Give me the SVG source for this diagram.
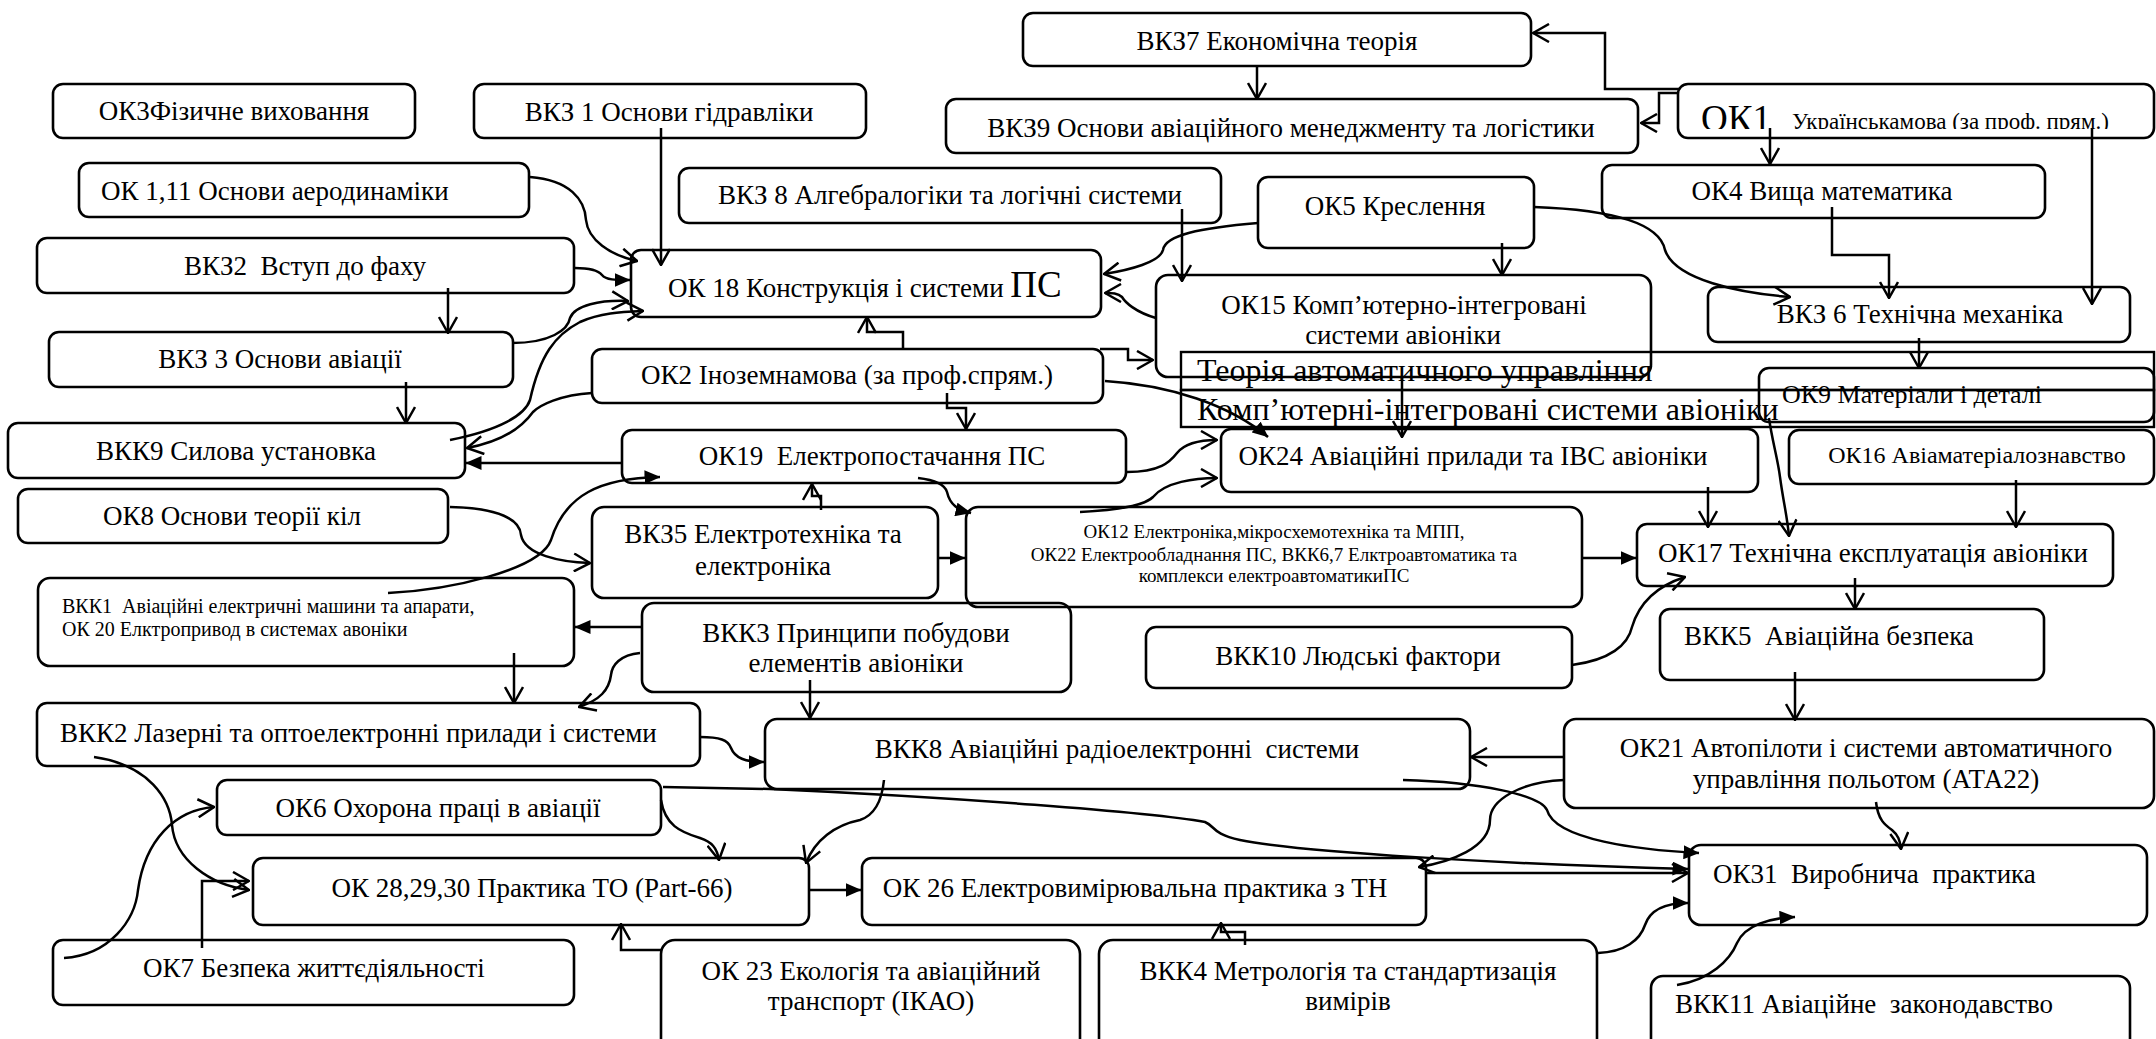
<svg xmlns="http://www.w3.org/2000/svg" width="2156" height="1039" viewBox="0 0 2156 1039">
<style>
.b{fill:none;stroke:#000;stroke-width:2.6}
.r{fill:none;stroke:#000;stroke-width:2.4}
.t{font-family:"Liberation Serif","Times New Roman",serif;font-size:27px;fill:#000}
.m{text-anchor:middle}
.p{white-space:pre}
.c path{fill:none;stroke:#000;stroke-width:2.5}
.o{marker-end:url(#ao)}
.f{marker-end:url(#af)}
</style>
<defs>
<marker id="ao" viewBox="0 0 18 20" refX="17" refY="10" markerWidth="18" markerHeight="20" orient="auto" markerUnits="userSpaceOnUse"><path d="M1,1 L17,10 L1,19" fill="none" stroke="#000" stroke-width="2.5"/></marker>
<marker id="af" viewBox="0 0 16 14" refX="15.5" refY="7" markerWidth="16" markerHeight="14" orient="auto" markerUnits="userSpaceOnUse"><path d="M0,0 L16,7 L0,14 Z" fill="#000"/></marker>
<clipPath id="c1"><rect x="1680" y="86" width="474" height="43"/></clipPath>
</defs>

<g id="n-vkz7"><rect class="b" x="1023" y="13" width="508" height="53" rx="10"/><text class="t m" x="1277" y="50">ВКЗ7 Економічна теорія</text></g>
<g id="n-vkz9"><rect class="b" x="946" y="99" width="692" height="54" rx="10"/><text class="t m" x="1291" y="137">ВКЗ9 Основи авіаційного менеджменту та логістики</text></g>
<g id="n-ok1"><rect class="b" x="1678" y="84" width="476" height="54" rx="10"/><g clip-path="url(#c1)"><text class="t" x="1701" y="131" style="font-size:37px">ОК1</text><text class="t" x="1792" y="129" style="font-size:23px">Українськамова (за проф. прям.)</text></g></g>
<g id="n-ok3"><rect class="b" x="53" y="84" width="362" height="54" rx="10"/><text class="t m" x="234" y="120">ОК3Фізичне виховання</text></g>
<g id="n-vkz1"><rect class="b" x="474" y="84" width="392" height="54" rx="10"/><text class="t m" x="669" y="121">ВКЗ 1 Основи гідравліки</text></g>
<g id="n-ok111"><rect class="b" x="79" y="163" width="450" height="54" rx="10"/><text class="t" x="101" y="200">ОК 1,11 Основи аеродинаміки</text></g>
<g id="n-vkz2"><rect class="b" x="37" y="238" width="537" height="55" rx="10"/><text class="t m p" x="305" y="275">ВКЗ2  Вступ до фаху</text></g>
<g id="n-vkz8"><rect class="b" x="679" y="168" width="542" height="55" rx="10"/><text class="t m" x="950" y="204">ВКЗ 8 Алгебралогіки та логічні системи</text></g>
<g id="n-ok5"><rect class="b" x="1258" y="177" width="276" height="71" rx="10"/><text class="t m" x="1395" y="215">ОК5 Креслення</text></g>
<g id="n-ok4"><rect class="b" x="1602" y="165" width="443" height="53" rx="10"/><text class="t m" x="1822" y="200">ОК4 Вища математика</text></g>
<g id="n-ok18"><rect class="b" x="631" y="250" width="470" height="67" rx="10"/><text class="t" x="668" y="297">ОК 18 Конструкція і системи <tspan style="font-size:37px">ПС</tspan></text></g>
<g id="n-ok15"><rect class="b" x="1156" y="275" width="495" height="102" rx="12"/><text class="t m" x="1404" y="314">ОК15 Комп’ютерно-інтегровані</text><text class="t m" x="1403" y="344">системи авіоніки</text></g>
<g id="n-vkz6"><rect class="b" x="1708" y="287" width="422" height="55" rx="10"/><text class="t m" x="1920" y="323">ВКЗ 6 Технічна механіка</text></g>
<g id="n-vkz3"><rect class="b" x="49" y="332" width="464" height="55" rx="10"/><text class="t m" x="280" y="368">ВКЗ 3 Основи авіації</text></g>
<g id="n-ok2"><rect class="b" x="592" y="349" width="511" height="54" rx="10"/><text class="t m" x="847" y="384">ОК2 Іноземнамова (за проф.спрям.)</text></g>
<g id="n-vkk9"><rect class="b" x="8" y="423" width="457" height="55" rx="10"/><text class="t m" x="236" y="460">ВКК9 Силова установка</text></g>
<g id="n-ok8"><rect class="b" x="18" y="489" width="430" height="54" rx="10"/><text class="t m" x="232" y="525">ОК8 Основи теорії кіл</text></g>
<g id="n-ok9"><rect class="b" x="1759" y="368" width="395" height="54" rx="10"/><text class="t" x="1782" y="403" style="font-size:26px">ОК9 Матеріали і деталі</text></g>
<g id="n-tau"><rect class="r" x="1181" y="352" width="973" height="38"/><text class="t" x="1197" y="381" style="font-size:32px">Теорія автоматичного управління</text></g>
<g id="n-kis"><rect class="r" x="1181" y="390" width="973" height="37"/><text class="t" x="1197" y="420" style="font-size:32px">Комп’ютерні-інтегровані системи авіоніки</text></g>
<g id="n-ok19"><rect class="b" x="622" y="430" width="504" height="53" rx="10"/><text class="t m p" x="872" y="465">ОК19  Електропостачання ПС</text></g>
<g id="n-ok24"><rect class="b" x="1221" y="429" width="537" height="63" rx="10"/><text class="t m" x="1473" y="465">ОК24 Авіаційні прилади та ІВС авіоніки</text></g>
<g id="n-ok16"><rect class="b" x="1789" y="430" width="365" height="54" rx="10"/><text class="t m" x="1977" y="463" style="font-size:24px">ОК16 Авіаматеріалознавство</text></g>
<g id="n-vkz5"><rect class="b" x="592" y="507" width="346" height="91" rx="12"/><text class="t m" x="763" y="543">ВКЗ5 Електротехніка та</text><text class="t m" x="763" y="575">електроніка</text></g>
<g id="n-ok12"><rect class="b" x="966" y="507" width="616" height="100" rx="12"/><text class="t m" x="1274" y="538" style="font-size:19px">ОК12 Електроніка,мікросхемотехніка та МПП,</text><text class="t m" x="1274" y="561" style="font-size:19px">ОК22 Електрообладнання ПС, ВКК6,7 Елктроавтоматика та</text><text class="t m" x="1274" y="582" style="font-size:19px">комплекси електроавтоматикиПС</text></g>
<g id="n-ok17"><rect class="b" x="1637" y="524" width="476" height="62" rx="10"/><text class="t m" x="1873" y="562">ОК17 Технічна експлуатація авіоніки</text></g>
<g id="n-vkk1"><rect class="b" x="38" y="578" width="536" height="88" rx="12"/><text class="t p" x="62" y="613" style="font-size:20px">ВКК1  Авіаційні електричні машини та апарати,</text><text class="t" x="62" y="636" style="font-size:20px">ОК 20 Елктропривод в системах авоніки</text></g>
<g id="n-vkk3"><rect class="b" x="642" y="603" width="429" height="89" rx="12"/><text class="t m" x="856" y="642">ВКК3 Принципи побудови</text><text class="t m" x="856" y="672">елементів авіоніки</text></g>
<g id="n-vkk10"><rect class="b" x="1146" y="627" width="426" height="61" rx="10"/><text class="t m" x="1358" y="665">ВКК10 Людські фактори</text></g>
<g id="n-vkk5"><rect class="b" x="1660" y="609" width="384" height="71" rx="10"/><text class="t p" x="1684" y="645">ВКК5  Авіаційна безпека</text></g>
<g id="n-vkk2"><rect class="b" x="37" y="703" width="663" height="63" rx="10"/><text class="t" x="60" y="742">ВКК2 Лазерні та оптоелектронні прилади і системи</text></g>
<g id="n-vkk8"><rect class="b" x="765" y="719" width="705" height="70" rx="12"/><text class="t m p" x="1117" y="758">ВКК8 Авіаційні радіоелектронні  системи</text></g>
<g id="n-ok21"><rect class="b" x="1564" y="719" width="590" height="89" rx="12"/><text class="t m" x="1866" y="757">ОК21 Автопілоти і системи автоматичного</text><text class="t m" x="1866" y="788">управління польотом (АТА22)</text></g>
<g id="n-ok6"><rect class="b" x="217" y="780" width="444" height="55" rx="10"/><text class="t m" x="438" y="817">ОК6 Охорона праці в авіації</text></g>
<g id="n-ok31"><rect class="b" x="1689" y="845" width="458" height="80" rx="12"/><text class="t p" x="1713" y="883">ОК31  Виробнича  практика</text></g>
<g id="n-ok28"><rect class="b" x="253" y="858" width="556" height="67" rx="10"/><text class="t m" x="532" y="897">ОК 28,29,30 Практика ТО (Part-66)</text></g>
<g id="n-ok26"><rect class="b" x="862" y="858" width="564" height="67" rx="10"/><text class="t m" x="1135" y="897">ОК 26 Електровимірювальна практика з ТН</text></g>
<g id="n-ok7"><rect class="b" x="53" y="940" width="521" height="65" rx="10"/><text class="t m" x="314" y="977">ОК7 Безпека життєдіяльності</text></g>
<g id="n-ok23"><rect class="b" x="661" y="940" width="419" height="115" rx="14"/><text class="t m" x="871" y="980">ОК 23 Екологія та авіаційний</text><text class="t m" x="871" y="1010">транспорт (ІКАО)</text></g>
<g id="n-vkk4"><rect class="b" x="1099" y="940" width="498" height="115" rx="14"/><text class="t m" x="1348" y="980">ВКК4 Метрологія та стандартизація</text><text class="t m" x="1348" y="1010">вимірів</text></g>
<g id="n-vkk11"><rect class="b" x="1651" y="976" width="479" height="80" rx="12"/><text class="t p" x="1675" y="1013">ВКК11 Авіаційне  законодавство</text></g>

<g id="connectors" class="c">
<path class="o" d="M1679,89 H1605 V33 H1533"/>
<path class="o" d="M1679,93 H1659 V123 H1641"/>
<path class="o" d="M1257,67 V99"/>
<path class="o" d="M1770,128 V164"/>
<path class="o" d="M2092,128 V304"/>
<path class="o" d="M1832,207 V255 H1889 V298"/>
<path class="o" d="M1534,207 C1620,210 1660,225 1665,250 C1675,280 1740,293 1790,297"/>
<path class="o" d="M1502,243 V275"/>
<path class="o" d="M1258,223 C1200,228 1165,235 1163,250 C1160,262 1130,270 1104,274"/>
<path class="o" d="M1182,209 V281"/>
<path class="o" d="M1156,318 C1135,312 1125,302 1122,297 C1118,293 1112,293 1105,293"/>
<path class="o" d="M903,350 V332 H867 V317"/>
<path class="o" d="M1100,349 H1128 V360 H1153"/>
<path class="f" d="M1105,381 C1170,385 1230,405 1268,437"/>
<path class="o" d="M947,393 V408 H966 V429"/>
<path class="o" d="M592,393 C560,395 540,405 533,412 C520,430 500,442 467,448"/>
<path class="f" d="M622,463 H466"/>
<path class="f" d="M388,593 C450,590 540,570 551,540 C565,495 600,478 660,477"/>
<path class="o" d="M406,382 V423"/>
<path class="o" d="M448,288 V333"/>
<path class="o" d="M661,128 V265"/>
<path class="o" d="M530,177 C570,180 585,200 586,220 C588,240 610,255 637,261"/>
<path class="f" d="M575,268 C590,268 598,270 602,275 C606,280 615,280 630,280"/>
<path class="o" d="M512,343 C550,343 568,330 570,318 C575,305 600,300 628,301"/>
<path class="o" d="M450,440 C500,430 525,415 530,400 C540,355 555,335 580,322 C600,313 620,312 643,311"/>
<path class="o" d="M450,507 C500,508 520,520 521,535 C525,555 560,562 590,563"/>
<path class="f" d="M642,627 H575"/>
<path class="o" d="M514,653 V703"/>
<path class="o" d="M640,653 C620,655 612,665 611,675 C609,690 600,700 579,707"/>
<path class="o" d="M810,680 V718"/>
<path class="f" d="M700,737 C720,737 728,740 731,748 C735,758 745,762 764,762"/>
<path class="o" d="M94,757 C150,765 170,800 172,825 C175,860 210,885 249,890"/>
<path class="o" d="M64,958 C110,955 135,920 138,890 C145,840 175,810 214,807"/>
<path class="o" d="M202,948 V881 H249"/>
<path class="o" d="M661,800 C665,825 680,832 700,838 C712,842 717,848 719,860"/>
<path class="f" d="M663,787 L770,789 C950,797 1150,812 1205,822 C1215,826 1212,834 1240,840 C1300,852 1500,864 1688,869"/>
<path class="o" d="M1427,873 H1688"/>
<path class="o" d="M1564,780 C1520,782 1490,800 1490,820 C1490,848 1450,862 1419,867"/>
<path class="f" d="M1403,780 C1480,782 1540,795 1547,810 C1555,840 1640,850 1699,853"/>
<path class="o" d="M1564,757 H1471"/>
<path class="o" d="M1795,672 V720"/>
<path class="o" d="M1876,802 C1878,820 1885,825 1892,830 C1898,835 1900,840 1901,849"/>
<path class="f" d="M1598,953 C1625,952 1640,940 1645,925 C1650,910 1665,903 1688,903"/>
<path class="f" d="M1677,985 C1710,980 1730,960 1737,943 C1745,925 1770,918 1795,917"/>
<path class="o" d="M1245,945 V932 H1221 V923"/>
<path class="o" d="M661,950 H621 V924"/>
<path class="f" d="M809,890 H861"/>
<path class="o" d="M884,780 C882,800 875,815 860,820 C835,825 815,840 806,863"/>
<path class="f" d="M938,558 H965"/>
<path class="o" d="M821,510 V496 H812 V484"/>
<path class="f" d="M918,478 C935,480 945,485 947,492 C950,505 958,510 971,513"/>
<path class="o" d="M1127,472 C1160,472 1170,462 1177,453 C1185,443 1200,440 1217,440"/>
<path class="o" d="M1080,512 C1120,510 1145,505 1153,497 C1165,482 1195,478 1217,478"/>
<path class="f" d="M1582,558 H1636"/>
<path class="o" d="M1708,487 V527"/>
<path class="o" d="M2016,480 V527"/>
<path class="o" d="M1919,338 V368"/>
<path class="o" d="M1769,418 C1772,440 1778,460 1780,477 C1783,500 1787,515 1789,536"/>
<path class="o" d="M1402,377 V437"/>
<path class="o" d="M1572,665 C1610,660 1628,645 1632,627 C1640,600 1660,585 1685,577"/>
<path class="o" d="M1855,578 V609"/>
</g>
</svg>
